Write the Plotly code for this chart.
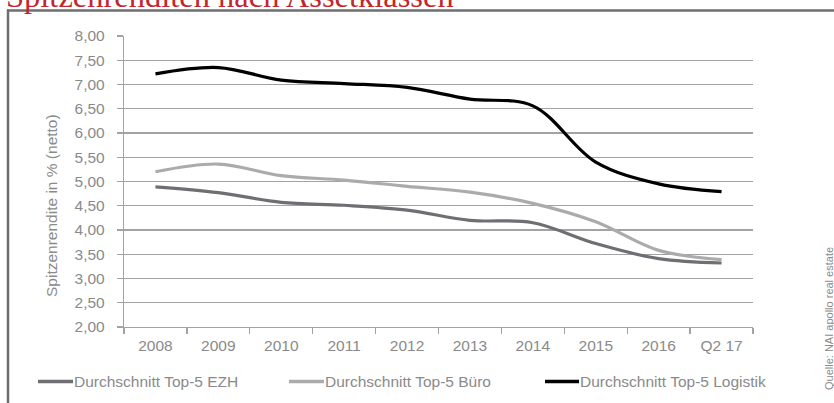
import plotly.graph_objects as go

# ---- data ----
categories = ["2008", "2009", "2010", "2011", "2012", "2013", "2014", "2015", "2016", "Q2 17"]
ezh = [4.89, 4.77, 4.57, 4.51, 4.41, 4.20, 4.15, 3.72, 3.41, 3.32]
buero = [5.20, 5.36, 5.12, 5.03, 4.90, 4.78, 4.55, 4.17, 3.58, 3.39]
logistik = [7.22, 7.35, 7.09, 7.02, 6.94, 6.70, 6.56, 5.40, 4.95, 4.79]
series_names = ["Durchschnitt Top-5 EZH", "Durchschnitt Top-5 Büro", "Durchschnitt Top-5 Logistik"]
y_ticks = [2.0, 2.5, 3.0, 3.5, 4.0, 4.5, 5.0, 5.5, 6.0, 6.5, 7.0, 7.5, 8.0]
title_text = "Spitzenrenditen nach Assetklassen"
y_title = "Spitzenrendite in % (netto)"
source_text = "Quelle: NAI apollo real estate"

# ---- layout geometry ----
W, H = 834, 403
L, R, T, B = 124, 81, 36, 76
PW, PH = W - L - R, H - T - B

def px(x):
    return (x - L) / PW

def py(y):
    return (H - B - y) / PH

colors = ["#6d6f72", "#ababab", "#000000"]
font_family = "Liberation Sans, Arial, sans-serif"
text_gray = "#8a8a8a"
FS = 15.5

fig = go.Figure()
for name, vals, col in zip(series_names, [ezh, buero, logistik], colors):
    fig.add_trace(go.Scatter(
        x=categories, y=vals, mode="lines", name=name,
        line=dict(color=col, width=3.2, shape="spline", smoothing=1.0),
        showlegend=False, hoverinfo="skip",
    ))

shapes = []
annotations = []

# frame (top and left border)
frame_col = "#6d6f72"
shapes.append(dict(type="line", xref="paper", yref="paper",
                   x0=px(7), x1=px(900), y0=py(10.5), y1=py(10.5),
                   line=dict(color=frame_col, width=2.5)))
shapes.append(dict(type="line", xref="paper", yref="paper",
                   x0=px(8), x1=px(8), y0=py(9.5), y1=py(450),
                   line=dict(color=frame_col, width=2.5)))

# manual legend
legend_items = [(38, 73), (289, 324), (545, 579)]
for (x0, x1), name, col in zip(legend_items, series_names, colors):
    shapes.append(dict(type="line", xref="paper", yref="paper",
                       x0=px(x0), x1=px(x1), y0=py(381.5), y1=py(381.5),
                       line=dict(color=col, width=3.5)))
    annotations.append(dict(text=name, xref="paper", yref="paper",
                            x=px(x1 - 1), y=py(381.5), xanchor="left", yanchor="middle",
                            showarrow=False, font=dict(family=font_family, size=FS, color=text_gray)))

# title (partially cut off at top, as in the source image)
annotations.append(dict(text=title_text, xref="paper", yref="paper",
                        x=px(4), y=py(-4), xanchor="left", yanchor="middle",
                        showarrow=False,
                        font=dict(family="Liberation Serif, Times New Roman, serif", size=32.5, color="#c1272d")))

# y axis title
annotations.append(dict(text=y_title, xref="paper", yref="paper",
                        x=px(52), y=py(206), xanchor="center", yanchor="middle",
                        textangle=-90, showarrow=False,
                        font=dict(family=font_family, size=FS, color=text_gray)))

# source
annotations.append(dict(text=source_text, xref="paper", yref="paper",
                        x=px(829), y=py(319), xanchor="center", yanchor="middle",
                        textangle=-90, showarrow=False,
                        font=dict(family=font_family, size=11, color=text_gray)))

grid_col = "#a3a3a3"
fig.update_layout(
    width=W, height=H, autosize=False,
    margin=dict(l=L, r=R, t=T, b=B, pad=0),
    paper_bgcolor="white", plot_bgcolor="white",
    separators=",.",
    showlegend=False,
    hovermode=False,
    shapes=shapes, annotations=annotations,
    font=dict(family=font_family, size=FS, color=text_gray),
    xaxis=dict(
        type="category", categoryorder="array", categoryarray=categories,
        range=[-0.5, len(categories) - 0.5],
        showgrid=False, zeroline=False,
        showline=True, linecolor=grid_col, linewidth=1.2,
        ticks="outside", tickson="boundaries", ticklen=6, tickcolor=grid_col, tickwidth=1.2,
        tickfont=dict(family=font_family, size=FS, color=text_gray),
        ticklabelstandoff=4,
    ),
    yaxis=dict(
        range=[2, 8], tickvals=y_ticks, tickformat=".2f",
        showgrid=True, gridcolor=grid_col, gridwidth=1.2,
        zeroline=False,
        showline=True, linecolor=grid_col, linewidth=1.2,
        ticks="outside", ticklen=6, tickcolor=grid_col, tickwidth=1.2,
        tickfont=dict(family=font_family, size=FS, color=text_gray),
        ticklabelstandoff=9,
    ),
)

fig.write_html(
    "out.html",
    config={"displayModeBar": False, "staticPlot": True},
    post_script="document.body.style.margin='0';document.body.style.padding='0';",
)
